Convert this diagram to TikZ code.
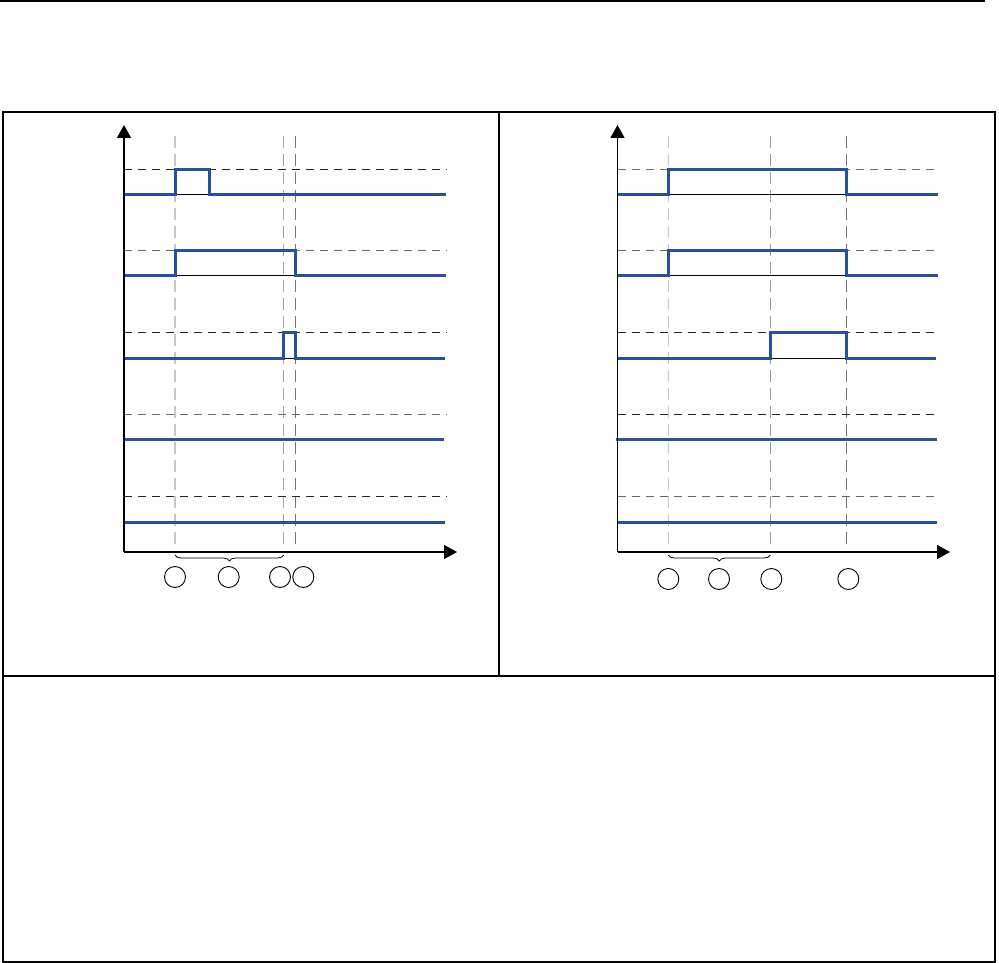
\documentclass[tikz,border=0pt]{standalone}
\usetikzlibrary{arrows.meta,decorations.pathreplacing}
\definecolor{sigblue}{RGB}{40,80,160}
\tikzset{
  sig/.style={sigblue, line width=3pt, line join=miter},
  baseline/.style={black, line width=0.9pt},
  hdash/.style={line width=1pt, dash pattern=on 8pt off 6pt},
  vdash/.style={line width=1.2pt, dash pattern=on 12pt off 6pt},
  axis/.style={black, line width=1.4pt, -{Triangle[length=13pt,width=14pt]}},
  frame/.style={black, line width=1.3pt},
  mark circle/.style={circle, draw=black, line width=0.9pt, minimum size=21pt, inner sep=0pt},
  bracestyle/.style={black, line width=0.8pt, decorate, decoration={brace, amplitude=6pt}}
}
\begin{document}
\begin{tikzpicture}[x=1pt,y=-1pt]
\useasboundingbox (0,0) rectangle (999,963);
% top rule and table frame
\draw[frame] (0,1) -- (985,1);
\draw[frame] (3,112) rectangle (995,962);
\draw[frame] (499,112) -- (499,676);
\draw[frame] (3,676) -- (995,676);

% ---------- left panel ----------
\draw[vdash, black!22] (175,136) -- (175,544);
\draw[vdash, black!35] (283.7,136) -- (283.7,544);
\draw[vdash, black!55] (295.3,136) -- (295.3,544);
\draw[hdash, black!85] (124,169.5) -- (447,169.5);
\draw[hdash, black!60] (124,250) -- (447,250);
\draw[hdash, black!85] (124,332.5) -- (447,332.5);
\draw[hdash, black!60] (124,414) -- (447,414);
\draw[hdash, black!85] (124,496.5) -- (447,496.5);
\draw[baseline] (175,194) -- (209.5,194);
\draw[baseline] (175,275.5) -- (295.3,275.5);
\draw[baseline] (283.7,358) -- (295.3,358);
\draw[sig] (124,194) -- (175,194) -- (175,169.5) -- (209.5,169.5) -- (209.5,194) -- (446,194);
\draw[sig] (124,275.5) -- (175,275.5) -- (175,250) -- (295.3,250) -- (295.3,275.5) -- (446,275.5);
\draw[sig] (124,358) -- (283.7,358) -- (283.7,332.5) -- (295.3,332.5) -- (295.3,358) -- (445,358);
\draw[sig] (123,439.5) -- (444,439.5);
\draw[sig] (124,522) -- (445,522);
\coordinate (LO) at (124,552);
\coordinate (LY) at (124,125);
\coordinate (LX) at (457,552);
\draw[axis] (LO) -- (LY);
\draw[axis] (LO) -- (LX);
\coordinate (LB1) at (175,555);
\coordinate (LB2) at (283.7,555);
\draw[bracestyle] (LB2) -- (LB1);
\node[mark circle] (L1) at (175,577) {};
\node[mark circle] (L2) at (228.7,577) {};
\node[mark circle] (L3) at (280,577) {};
\node[mark circle] (L4) at (303.3,577) {};

% ---------- right panel ----------
\draw[vdash, black!22] (668.3,136) -- (668.3,544);
\draw[vdash, black!40] (770.3,136) -- (770.3,544);
\draw[vdash, black!55] (846.7,136) -- (846.7,544);
\draw[hdash, black!60] (617.5,169.5) -- (938,169.5);
\draw[hdash, black!60] (617.5,250) -- (938,250);
\draw[hdash, black!85] (617.5,332.5) -- (938,332.5);
\draw[hdash, black!85] (617.5,414) -- (938,414);
\draw[hdash, black!60] (617.5,496.5) -- (938,496.5);
\draw[baseline] (668.3,194) -- (846.7,194);
\draw[baseline] (668.3,275.5) -- (846.7,275.5);
\draw[baseline] (770.3,358) -- (846.7,358);
\draw[sig] (617.5,194) -- (668.3,194) -- (668.3,169.5) -- (846.7,169.5) -- (846.7,194) -- (938,194);
\draw[sig] (617.5,275.5) -- (668.3,275.5) -- (668.3,250) -- (846.7,250) -- (846.7,275.5) -- (938,275.5);
\draw[sig] (617.5,358) -- (770.3,358) -- (770.3,332.5) -- (846.7,332.5) -- (846.7,358) -- (936,358);
\draw[sig] (616,439.5) -- (937,439.5);
\draw[sig] (617.5,522) -- (937,522);
\coordinate (RO) at (617.5,552);
\coordinate (RY) at (617.5,125);
\coordinate (RX) at (950,552);
\draw[axis] (RO) -- (RY);
\draw[axis] (RO) -- (RX);
\coordinate (RB1) at (668.3,555);
\coordinate (RB2) at (770.3,555);
\draw[bracestyle] (RB2) -- (RB1);
\node[mark circle] (R1) at (668.3,579) {};
\node[mark circle] (R2) at (719,579) {};
\node[mark circle] (R3) at (771.3,579) {};
\node[mark circle] (R4) at (848.3,579) {};
\end{tikzpicture}
\end{document}
